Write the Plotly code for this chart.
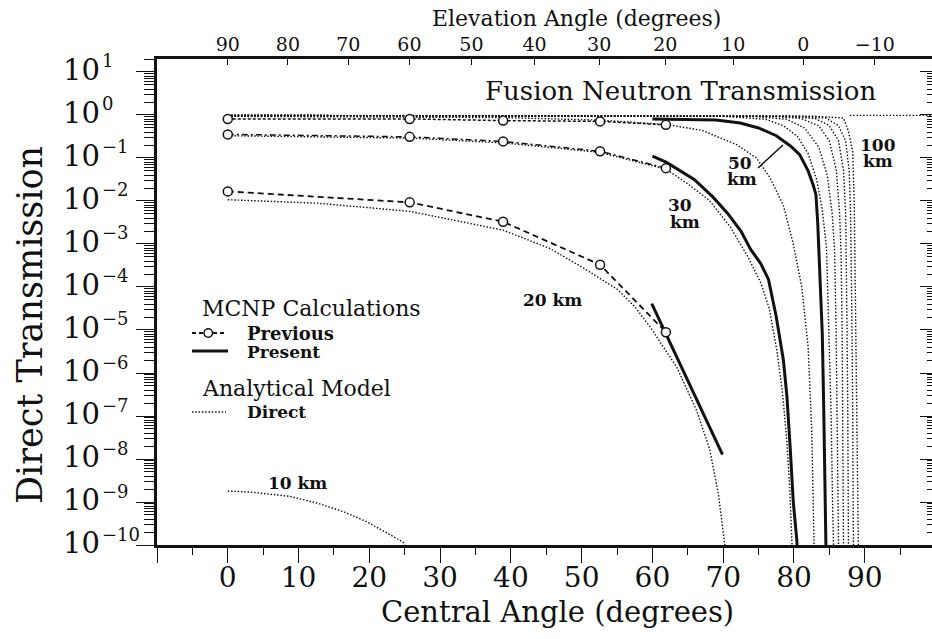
import math
import plotly.graph_objects as go

# ---------------- data: central angle (deg) vs direct transmission ----------------
# Analytical model (direct), dotted
an10_x = [0, 3.2, 8.8, 12.6, 16.3, 19.6, 22.5, 24.8, 25.3]
an10_y = [1.8e-9, 1.7e-9, 1.35e-9, 9.5e-10, 6.0e-10, 3.5e-10, 1.9e-10, 1.15e-10, 8e-11]

an20_x = [0, 12.6, 25.7, 33.8, 38.9, 45.5, 50.2, 55.0, 57.5, 59.8, 63.4, 66.2, 68.1, 69.3, 70.2, 70.4]
an20_y = [1.07e-2, 8.9e-3, 5.75e-3, 3.1e-3, 2.1e-3, 7.9e-4, 2.8e-4, 8.9e-5, 3.5e-5, 1.1e-5,
          1.4e-6, 1.4e-7, 1.66e-8, 1.6e-9, 1.3e-10, 6e-11]

an30_x = [0, 25.7, 38.9, 52.6, 61.9, 65.0, 68.0, 71.0, 73.5, 75.3, 76.5, 77.6, 78.4, 79.0, 79.4, 79.7, 79.75]
an30_y = [0.33, 0.29, 0.225, 0.135, 0.055, 0.025, 0.0105, 2.5e-3, 5e-4, 1.26e-4, 3.2e-5,
          3.2e-6, 3.2e-7, 2.5e-8, 2e-9, 1.26e-10, 8e-11]

an50_x = [0, 25.7, 38.9, 52.6, 61.9, 67.0, 71.9, 74.7, 76.6, 78.5, 79.9, 81.1, 82.0, 82.5, 82.8, 82.85]
an50_y = [0.93, 0.91, 0.87, 0.76, 0.60, 0.44, 0.204, 0.1, 0.035, 7.9e-3, 1e-3, 1e-4, 4e-6,
          5e-8, 1.26e-10, 8e-11]

# higher-altitude analytical curves (up to 100 km)
hi1_x = [0, 70, 76, 78.5, 80.5, 82.0, 83.2, 84.0, 84.6, 84.95, 85.25, 85.45, 85.6]
hi1_y = [0.977, 0.933, 0.794, 0.562, 0.316, 0.126, 0.0316, 6.3e-3, 7.9e-4, 1e-5, 1e-7, 1e-9, 7.9e-11]
hi2_x = [0, 74, 79, 81.5, 83.5, 84.7, 85.4, 85.75, 85.95, 86.1, 86.2, 86.3]
hi2_y = [0.977, 0.933, 0.794, 0.5, 0.178, 0.04, 5e-3, 6.3e-4, 1e-5, 1e-7, 1e-9, 7.9e-11]
hi3_x = [0, 77, 81, 83.5, 85.0, 86.0, 86.45, 86.65, 86.8, 86.9, 86.95, 87.0]
hi3_y = [0.977, 0.933, 0.83, 0.562, 0.25, 0.05, 5e-3, 6.3e-4, 1e-5, 1e-7, 1e-9, 7.9e-11]
hi4_x = [0, 79, 83, 85.0, 86.3, 87.0, 87.3, 87.4, 87.5, 87.6, 87.65, 87.7]
hi4_y = [0.977, 0.933, 0.83, 0.562, 0.25, 0.05, 5e-3, 6.3e-4, 1e-5, 1e-7, 1e-9, 7.9e-11]
hi5_x = [0, 81, 84.5, 86.3, 87.3, 87.8, 88.0, 88.1, 88.2, 88.3, 88.35, 88.4]
hi5_y = [0.977, 0.933, 0.85, 0.562, 0.25, 0.05, 5e-3, 6.3e-4, 1e-5, 1e-7, 1e-9, 7.9e-11]
hi6_x = [0, 83, 87.0, 87.7, 88.3, 88.5, 88.6, 88.75, 88.9, 89.0, 89.1]
hi6_y = [0.977, 0.933, 0.85, 0.417, 0.141, 0.01, 6.3e-4, 1e-5, 1e-7, 1e-9, 7.9e-11]
flat_x = [87.9, 99.5]
flat_y = [0.98, 0.98]

# MCNP previous calculations (circles)
prev_x = [0, 25.7, 38.9, 52.6, 61.9]
prev20_y = [0.0167, 0.0093, 0.0033, 3.3e-4, 8.9e-6]
prev30_y = [0.354, 0.31, 0.243, 0.143, 0.058]
prev50_y = [0.81, 0.81, 0.74, 0.71, 0.59]

# MCNP present calculations (solid)
pres20_x = [59.9, 69.9]
pres20_y = [4.1e-5, 1.26e-8]
pres30_x = [60, 62, 65.9, 68.5, 70.6, 72.5, 73.9, 75.3, 76.4, 77.5, 78.5, 79.0, 79.45, 79.9, 80.4, 80.45]
pres30_y = [0.11, 0.079, 0.0316, 0.0126, 5.2e-3, 2e-3, 7.4e-4, 3.5e-4, 1.5e-4, 2e-5, 2e-6,
            2.9e-7, 2e-8, 1e-9, 1.3e-10, 8e-11]
pres50_x = [60, 65, 69, 72.4, 75, 77.5, 79.5, 80.8, 82.0, 82.7, 83.1, 83.35, 83.55, 83.7, 84.0,
            84.2, 84.35, 84.5, 84.52]
pres50_y = [0.81, 0.79, 0.76, 0.65, 0.5, 0.33, 0.19, 0.12, 0.05, 0.024, 0.014, 3.2e-3, 5e-4,
            1e-4, 8e-6, 1.6e-7, 4e-9, 1.26e-10, 8e-11]

# axes
x_ticks = [-10, 0, 10, 20, 30, 40, 50, 60, 70, 80, 90]
x_labels = ["", "0", "10", "20", "30", "40", "50", "60", "70", "80", "90"]
x_minor = [-5, 5, 15, 25, 35, 45, 55, 65, 75, 85, 95]
y_exps = [1, 0, -1, -2, -3, -4, -5, -6, -7, -8, -9, -10]
y_exp_labels = ["1", "0", "\u22121", "\u22122", "\u22123", "\u22124", "\u22125", "\u22126",
                "\u22127", "\u22128", "\u22129", "\u221210"]
elev_ticks = [90, 80, 70, 60, 50, 40, 30, 20, 10, 0, -10]
elev_labels = ["90", "80", "70", "60", "50", "40", "30", "20", "10", "0", "\u221210"]

# ---------------- layout geometry ----------------
W, H = 932, 639
ML, MR, MT, MB = 157, 0, 59, 94
PW, PH = W - ML - MR, H - MT - MB
XR = [-10, 99.5]
YR = [-10, 1.302]
FONT = "DejaVu Serif"
INK = "#111"


def fx(p):
    return (p - ML) / PW


def fy(p):
    return (H - MB - p) / PH


# elevation angle -> central angle (observer on ground, source at fixed altitude)
K = math.sin(math.radians(8.7))


def elev_to_central(e):
    return 90 - e - math.degrees(math.asin(K * math.cos(math.radians(e))))


elev_pos = [elev_to_central(e) for e in elev_ticks]

DOT = dict(color=INK, width=1.4, dash="1.5px,1.8px")
fig = go.Figure()


def add(x, y, line, mode="lines", marker=None):
    kw = dict(x=x, y=y, mode=mode, line=line, hoverinfo="skip", showlegend=False)
    if marker:
        kw["marker"] = marker
    fig.add_trace(go.Scatter(**kw))


for xs, ys in [(an10_x, an10_y), (an20_x, an20_y), (an30_x, an30_y), (an50_x, an50_y),
               (hi1_x, hi1_y), (hi2_x, hi2_y), (hi3_x, hi3_y), (hi4_x, hi4_y),
               (hi5_x, hi5_y), (hi6_x, hi6_y), (flat_x, flat_y)]:
    add(xs, ys, DOT)

for xs, ys in [(pres20_x, pres20_y), (pres30_x, pres30_y), (pres50_x, pres50_y)]:
    add(xs, ys, dict(color=INK, width=3))

circ = dict(symbol="circle", size=9, color="white", line=dict(color=INK, width=1.5))
add(prev_x, prev50_y, dict(color=INK, width=1.5, dash="3px,2px"), "lines+markers", circ)
add(prev_x, prev30_y, dict(color=INK, width=1.5, dash="6px,3px,2px,3px"), "lines+markers", circ)
add(prev_x, prev20_y, dict(color=INK, width=1.8, dash="6px,4px"), "lines+markers", circ)

# dummy trace to create top/right axes
fig.add_trace(go.Scatter(x=[None], y=[None], xaxis="x2", yaxis="y2", showlegend=False))

minor_y = [m * 10.0 ** n for n in range(-10, 2) for m in range(2, 10)]

fig.update_layout(
    width=W, height=H, autosize=False,
    margin=dict(l=ML, r=MR, t=MT, b=MB, pad=0, autoexpand=False),
    paper_bgcolor="white", plot_bgcolor="white",
    font=dict(family=FONT, color=INK),
    xaxis=dict(range=XR, automargin=False, showgrid=False, zeroline=False, showline=True,
               linewidth=3, linecolor=INK,
               tickvals=x_ticks, ticktext=x_labels, ticks="outside", ticklen=15, tickwidth=1.3,
               tickcolor=INK, tickfont=dict(size=28, family=FONT), ticklabelstandoff=-10,
               minor=dict(tickvals=x_minor, ticks="outside", ticklen=7, tickwidth=1, tickcolor=INK)),
    yaxis=dict(type="log", range=YR, automargin=False, showgrid=False, zeroline=False,
               showline=True, linewidth=3,
               linecolor=INK, tickvals=[10.0 ** e for e in y_exps], showticklabels=False,
               ticks="outside", ticklen=18, tickwidth=1.3, tickcolor=INK,
               minor=dict(tickvals=minor_y, ticks="outside", ticklen=10, tickwidth=1, tickcolor=INK)),
    xaxis2=dict(overlaying="x", side="top", anchor="y", range=XR, automargin=False,
                showgrid=False, zeroline=False,
                showline=True, linewidth=3, linecolor=INK, tickvals=elev_pos, ticktext=elev_labels,
                ticks="inside", ticklen=6, tickwidth=1.3, tickcolor=INK, ticklabelstandoff=-3,
                tickfont=dict(size=19, family=FONT)),
    yaxis2=dict(overlaying="y", side="right", anchor="x", type="log", range=YR, automargin=False,
                showgrid=False,
                zeroline=False, showline=True, linewidth=3, linecolor=INK, showticklabels=False,
                tickvals=[10.0 ** e for e in y_exps], ticks="inside", ticklen=12, tickwidth=1.3,
                tickcolor=INK,
                minor=dict(tickvals=minor_y, ticks="inside", ticklen=5, tickwidth=1, tickcolor=INK)),
)

ann = []


def text(s, x, y, size, xanchor="center", angle=0, bold=False):
    ann.append(dict(text=("<b>%s</b>" % s) if bold else s, x=fx(x), y=fy(y), xref="paper",
                    yref="paper", showarrow=False, xanchor=xanchor, yanchor="middle",
                    textangle=angle, font=dict(size=size, family=FONT, color=INK)))


# y tick labels: "10" with a raised exponent, placed on the log axis (y in log units)
for e, lab in zip(y_exps, y_exp_labels):
    ann.append(dict(text="10", x=fx(61), y=e, xref="paper", yref="y", showarrow=False,
                    xanchor="left", yanchor="middle", yshift=2,
                    font=dict(size=29, family=FONT, color=INK)))
    ann.append(dict(text=lab, x=fx(100), y=e, xref="paper", yref="y", showarrow=False,
                    xanchor="left", yanchor="middle", yshift=11,
                    font=dict(size=18, family=FONT, color=INK)))

text("Elevation Angle (degrees)", 576, 18, 22)
text("Central Angle (degrees)", 557, 612, 29)
text("Direct Transmission", 30, 325, 35, angle=-90)
text("Fusion Neutron Transmission", 681, 91, 26)
text("MCNP Calculations", 200, 308, 22, "left")
text("Previous", 245, 333, 18, "left", bold=True)
text("Present", 245, 352, 17, "left", bold=True)
text("Analytical Model", 200, 388, 22, "left")
text("Direct", 245, 412, 17, "left", bold=True)
text("10 km", 297, 483, 17, bold=True)
text("20 km", 552, 300, 17, bold=True)
text("30", 680, 205, 17, bold=True)
text("km", 685, 222, 17, bold=True)
text("50", 740, 163, 17, bold=True)
text("km", 742, 179, 17, bold=True)
text("100", 878, 145, 17, bold=True)
text("km", 878, 161, 17, bold=True)
fig.update_layout(annotations=ann)

shapes = [
    dict(type="line", xref="paper", yref="paper", x0=fx(192), x1=fx(225), y0=fy(333), y1=fy(333),
         line=dict(color=INK, width=1.8, dash="4px,3px")),
    dict(type="circle", xref="paper", yref="paper", x0=fx(204), x1=fx(212.5), y0=fy(337.2),
         y1=fy(328.8), fillcolor="white", line=dict(color=INK, width=1.5)),
    dict(type="line", xref="paper", yref="paper", x0=fx(192), x1=fx(228), y0=fy(351), y1=fy(351),
         line=dict(color=INK, width=3)),
    dict(type="line", xref="paper", yref="paper", x0=fx(192), x1=fx(226), y0=fy(412), y1=fy(412),
         line=DOT),
    dict(type="line", xref="paper", yref="paper", x0=fx(758), x1=fx(783), y0=fy(168), y1=fy(145),
         line=dict(color=INK, width=1.5)),
]
fig.update_layout(shapes=shapes)

fig.write_html("out.html", config={"displayModeBar": False},
               post_script="document.body.style.margin='0';document.body.style.padding='0';")
